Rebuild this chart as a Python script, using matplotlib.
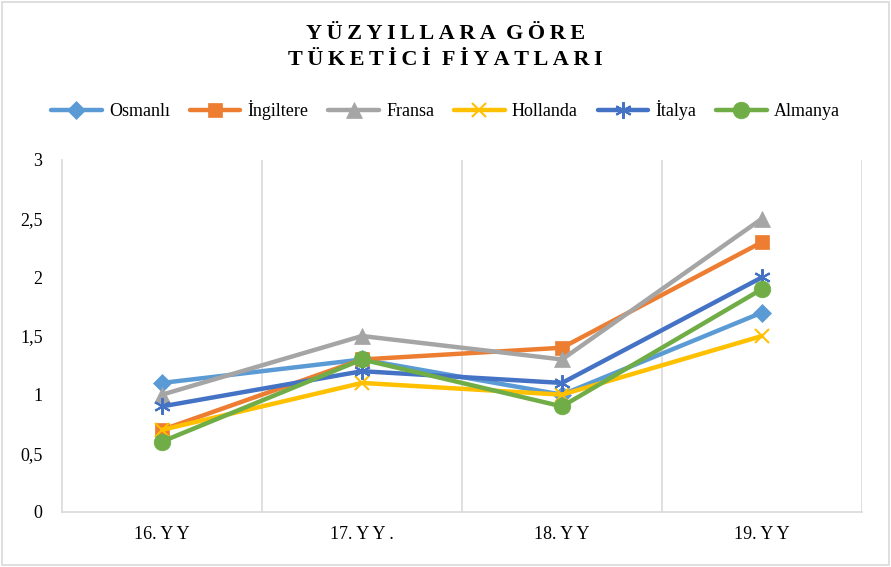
import matplotlib
matplotlib.use('Agg')
import matplotlib.pyplot as plt
from matplotlib.patches import Rectangle

# Data
categories = ['16. Y Y', '17. Y Y .', '18. Y Y', '19. Y Y']
osmanli   = [1.1, 1.3, 1.0, 1.7]
ingiltere = [0.7, 1.3, 1.4, 2.3]
fransa    = [1.0, 1.5, 1.3, 2.5]
hollanda  = [0.7, 1.1, 1.0, 1.5]
italya    = [0.9, 1.2, 1.1, 2.0]
almanya   = [0.6, 1.3, 0.9, 1.9]
yticks    = [0, 0.5, 1, 1.5, 2, 2.5, 3]
ylabels   = ['0', '0,5', '1', '1,5', '2', '2,5', '3']

plt.rcParams['font.family'] = ['Liberation Serif', 'DejaVu Serif']

fig = plt.figure(figsize=(8.91, 5.67), dpi=100)
ax  = fig.add_axes([62/891, 1-512/567, 800/891, 352/567])

x = range(len(categories))
series = [
    ('Osmanlı',   osmanli,   '#5B9BD5', 'D', 9),
    ('İngiltere', ingiltere, '#ED7D31', 's', 10),
    ('Fransa',    fransa,    '#A5A5A5', '^', 11),
    ('Hollanda',  hollanda,  '#FFC000', 'x', 10),
    ('İtalya',    italya,    '#4472C4', (6, 2, 0), 12),
    ('Almanya',   almanya,   '#70AD47', 'o', 12),
]
for name, vals, col, mk, ms in series:
    ax.plot(x, vals, color=col, lw=3.2, marker=mk, markersize=ms,
            markeredgewidth=1.5 if mk in ('x', (6, 2, 0)) else 0.5,
            markeredgecolor=col, label=name, solid_capstyle='round')

# Axes styling
ax.set_xlim(-0.5, 3.5)
ax.set_ylim(0, 3)
ax.set_yticks(yticks)
ax.set_yticklabels(ylabels, fontsize=13)
ax.set_xticks(list(x))
ax.set_xticklabels(categories, fontsize=13)
ax.tick_params(axis='both', length=0, pad=10)
ax.tick_params(axis='y', pad=14)
for v in [0.5, 1.5, 2.5, 3.5]:
    ax.axvline(v, color='#D9D9D9', lw=1.2, zorder=0)
for s in ['top', 'right']:
    ax.spines[s].set_visible(False)
ax.spines['left'].set_color('#D9D9D9')
ax.spines['bottom'].set_color('#D9D9D9')
ax.spines['left'].set_linewidth(1.2)
ax.spines['bottom'].set_linewidth(1.2)

# Title (letter-spaced with thin spaces)
line1 = '\u2009'.join('YÜZYILLARA') + '  ' + '\u2009'.join('GÖRE')
line2 = '\u2009'.join('TÜKETİCİ') + '  ' + '\u2009'.join('FİYATLARI')
fig.text(0.5, 1-34/567, line1, ha='center', va='center', fontsize=16, fontweight='bold')
fig.text(0.5, 1-60/567, line2, ha='center', va='center', fontsize=16, fontweight='bold')

# Legend
fig.legend(loc='center', bbox_to_anchor=(0.5, 1-110/567), ncol=6, frameon=False,
           fontsize=13, handlelength=2.8, columnspacing=1.1, handletextpad=0.4)

# Border
fig.patches.append(Rectangle((0.002, 0.003), 0.996, 0.994, transform=fig.transFigure,
                             fill=False, edgecolor='#D9D9D9', lw=1.2))

fig.savefig('out.png', dpi=100)
